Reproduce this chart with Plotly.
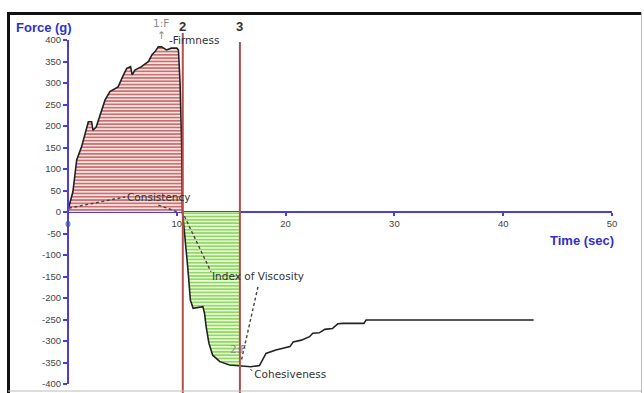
import numpy as np
import plotly.graph_objects as go

# Texture analyser trace: force (g) against time (s)
time_s = [0.0, 0.1, 0.45, 0.8, 1.25, 1.65, 1.87, 2.17, 2.3, 2.6, 3.1, 3.4, 3.85, 4.6,
          5.1, 5.4, 5.75, 5.9, 6.15, 6.75, 7.4, 7.7, 8.0, 8.3, 8.6, 9.05, 9.5, 10.0,
          10.15, 10.3, 10.45, 10.52, 10.6, 10.75, 11.0, 11.25, 11.5, 12.4, 12.55, 12.7,
          12.95, 13.3, 13.95, 14.85, 15.8, 16.8, 17.6, 18.2, 19.1, 20.4, 20.7, 21.45,
          22.2, 22.5, 23.1, 23.6, 24.3, 24.8, 25.3, 27.2, 27.4, 42.8]
force_g = [0, 14, 47, 121, 152, 190, 210, 210, 190, 198, 237, 260, 280, 291,
           319, 334, 338, 319, 330, 338, 350, 365, 373, 384, 384, 377, 381, 381,
           377, 300, 150, 0, -20, -55, -127, -205, -224, -220, -236, -267,
           -305, -333, -348, -356, -358, -360, -357, -329, -321, -313, -302, -298,
           -290, -282, -281, -273, -271, -260, -259, -259, -251, -251]

# Probe event markers (vertical lines)
event_labels = ["2", "3"]
event_times = [10.55, 15.8]

y_ticks = list(range(-400, 401, 50))
y_tick_text = [str(v) for v in y_ticks]
x_ticks = list(range(0, 51, 10))
x_tick_text = [str(v) for v in x_ticks]

W, H = 644, 393
t = np.array(time_s, dtype=float)
f = np.array(force_g, dtype=float)

# positive (compression) region up to the first zero crossing
cross_idx = int(np.argmax((t > 1) & (f <= 0)))
t_pos, f_pos = t[: cross_idx + 1], f[: cross_idx + 1]

# negative (withdrawal) region from the crossing to event 3
t_end = event_times[1]
mask = (t >= t[cross_idx]) & (t <= t_end)
t_neg = np.append(t[mask], t_end) if t[mask][-1] < t_end else t[mask]
f_neg = np.interp(t_neg, t, f)

fig = go.Figure()

fig.add_trace(go.Scatter(
    x=t_pos, y=f_pos, mode="lines", line=dict(width=0), fill="tozeroy",
    fillcolor="rgba(0,0,0,0)",
    fillpattern=dict(shape="-", size=3.3, solidity=0.45,
                     fgcolor="#c46464", bgcolor="#f8e2e2"),
    hoverinfo="skip", showlegend=False))

fig.add_trace(go.Scatter(
    x=t_neg, y=f_neg, mode="lines", line=dict(width=0), fill="tozeroy",
    fillcolor="rgba(0,0,0,0)",
    fillpattern=dict(shape="-", size=3.3, solidity=0.45,
                     fgcolor="#86d455", bgcolor="#e9fad8"),
    hoverinfo="skip", showlegend=False))

fig.add_trace(go.Scatter(
    x=t, y=f, mode="lines", line=dict(color="#222222", width=1.6),
    hoverinfo="skip", showlegend=False))

# dashed guide lines for the derived parameters
guides = [
    ([0.09, 5.24], [9, 35]),
    ([8.3, 9.99], [16, 1]),
    ([10.7, 13.14], [-10, -139]),
    ([17.46, 15.9], [-174, -349]),
]
for gx, gy in guides:
    fig.add_trace(go.Scatter(
        x=gx, y=gy, mode="lines",
        line=dict(color="#444444", width=1.4, dash="3px,2.5px"),
        hoverinfo="skip", showlegend=False))

axis_blue = "#4a3fd2"
tick_font = dict(family="Liberation Sans, Arial, sans-serif", size=9.5, color="#444444")

fig.update_layout(
    width=W, height=H,
    margin=dict(l=0, r=0, t=0, b=0),
    paper_bgcolor="white", plot_bgcolor="white",
    template="none",
    showlegend=False,
    xaxis=dict(
        domain=[68 / W, 612 / W], range=[0, 50], anchor="free",
        position=(H - 212) / H, showgrid=False, zeroline=False,
        showline=True, linecolor=axis_blue, linewidth=2,
        ticks="outside", ticklen=3, tickwidth=1.5, tickcolor=axis_blue,
        tickvals=x_ticks, ticktext=x_tick_text, tickfont=tick_font,
        automargin=False, layer="below traces",
    ),
    yaxis=dict(
        domain=[(H - 384) / H, (H - 40) / H], range=[-400, 400], anchor="free",
        position=68 / W, showgrid=False, zeroline=False,
        showline=True, linecolor=axis_blue, linewidth=2,
        ticks="outside", ticklen=4, tickwidth=1.5, tickcolor=axis_blue,
        tickvals=y_ticks, ticktext=y_tick_text, tickfont=tick_font,
        automargin=False,
    ),
)

# event marker lines and their numbers
event_tops = [(H - 33) / H, (H - 42) / H]
for lab, tx, top in zip(event_labels, event_times, event_tops):
    fig.add_shape(type="line", xref="x", yref="paper", x0=tx, x1=tx, y0=0, y1=top,
                  line=dict(color="#b24f4c", width=2), layer="above")
    fig.add_annotation(x=tx, xref="x", y=(H - 26) / H, yref="paper",
                       text="<b>" + lab + "</b>", showarrow=False,
                       xanchor="center", yanchor="middle",
                       font=dict(family="Liberation Sans, Arial", size=13,
                                 color="#333333"))

# outer frame
fig.add_shape(type="line", xref="paper", yref="paper", x0=8 / W, x1=642 / W,
              y0=(H - 13.5) / H, y1=(H - 13.5) / H, line=dict(color="#111111", width=3))
fig.add_shape(type="line", xref="paper", yref="paper", x0=8.5 / W, x1=8.5 / W,
              y0=0, y1=(H - 12) / H, line=dict(color="#111111", width=3))
fig.add_shape(type="line", xref="paper", yref="paper", x0=641.5 / W, x1=641.5 / W,
              y0=0, y1=(H - 12) / H, line=dict(color="#bbbbbb", width=1))
fig.add_shape(type="line", xref="paper", yref="paper", x0=8 / W, x1=642 / W,
              y0=2 / H, y1=2 / H, line=dict(color="#bbbbbb", width=1))

notes = [
    ("1:F", 161, 23, "#8a8a8a"),
    ("↑", 161, 35, "#8a8a8a"),
    ("-Firmness", 194, 40, "#333333"),
    ("Consistency", 159, 197, "#333333"),
    ("Index of Viscosity", 258, 276, "#333333"),
    ("2:F", 238, 349, "#8a8a8a"),
    ("`Cohesiveness", 287, 374, "#333333"),
]
for txt, px, py, col in notes:
    fig.add_annotation(x=px / W, y=(H - py) / H, xref="paper", yref="paper",
                       text=txt, showarrow=False, xanchor="center", yanchor="middle",
                       font=dict(family="DejaVu Sans, Verdana", size=10.5, color=col))

title_font = dict(family="Liberation Sans, Arial", size=13, color="#3030c8")
fig.add_annotation(x=44 / W, y=(H - 27) / H, xref="paper", yref="paper",
                   text="<b>Force (g)</b>", showarrow=False,
                   xanchor="center", yanchor="middle", font=title_font)
fig.add_annotation(x=582 / W, y=(H - 240) / H, xref="paper", yref="paper",
                   text="<b>Time (sec)</b>", showarrow=False,
                   xanchor="center", yanchor="middle", font=title_font)

fig.write_html("out.html")
